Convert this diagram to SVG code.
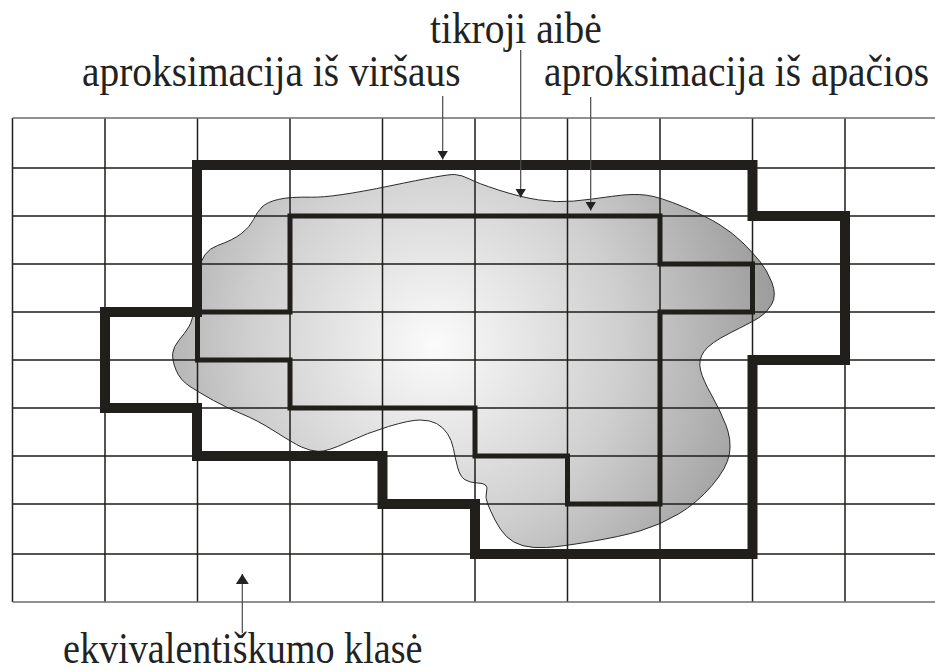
<svg xmlns="http://www.w3.org/2000/svg" width="935" height="671" viewBox="0 0 935 671">
  <style>
    .grid { stroke: #1e1e1a; stroke-width: 1.5; fill: none; }
    .edge { stroke: #6e6e6e; stroke-width: 1.4; fill: none; }
    .upper { stroke: #201f1b; stroke-width: 10; fill: none; stroke-linejoin: miter; stroke-miterlimit: 10; }
    .lower { stroke: #201f1b; stroke-width: 5; fill: none; stroke-linejoin: miter; stroke-miterlimit: 10; }
    .lead { stroke: #4a4a4a; stroke-width: 1.2; fill: none; }
    .label { font-family: "Liberation Serif", "Times New Roman", serif; font-size: 39.4px; fill: #222; }
  </style>
  <defs>
    <radialGradient id="setShade" gradientUnits="userSpaceOnUse" cx="435" cy="345" r="340">
      <stop offset="0" stop-color="#fbfbfb"/>
      <stop offset="0.55" stop-color="#cfcfcf"/>
      <stop offset="1" stop-color="#9d9d9d"/>
    </radialGradient>
    <marker id="head" viewBox="0 0 10 10" refX="10" refY="5" markerUnits="userSpaceOnUse" markerWidth="9" markerHeight="11" orient="auto" preserveAspectRatio="none">
      <path d="M0,0 L10,5 L0,10 z" fill="#222"/>
    </marker>
    <marker id="headBig" viewBox="0 0 10 10" refX="10" refY="5" markerUnits="userSpaceOnUse" markerWidth="10" markerHeight="13" orient="auto" preserveAspectRatio="none">
      <path d="M0,0 L10,5 L0,10 z" fill="#222"/>
    </marker>
  </defs>

  <rect width="935" height="671" fill="#fff"/>

  <!-- the true set: shaded irregular region -->
  <g id="true-set">
    <path fill="url(#setShade)" stroke="#2a2a2a" stroke-width="1"
      d="M278.5,199.4 Q290,196.7 311.5,197.2 Q333,197.7 390,185.9 Q447,174 454.5,174.5 Q462,175 469.5,179 Q477,183 498.5,190 Q520,197 538.5,199.9 Q557,202.7 573.5,201.1 Q590,199.5 611.5,196.4 Q633,193.3 646.5,195.2 Q660,197 683.5,206.9 Q707,216.7 720,224.9 Q733,233 743,243 Q753,253 760,261.5 Q767,270 771.9,282.5 Q776.7,295 771.9,304 Q767,313 758.5,318 Q750,323 730,333 Q710,343 704,351.5 Q698,360 700.5,370 Q703,380 711.5,395 Q720,410 725.9,425 Q731.7,440 729.4,454 Q727,468 712,485.5 Q697,503 678.5,514 Q660,525 640,530.9 Q620,536.7 590,541.7 Q560,546.7 546.5,547.5 Q533,548.3 523,545.7 Q513,543 506.5,536.5 Q500,530 495,520 Q490,510 487.5,503.5 Q485,497 486.5,492 Q488,487 485.5,485 Q483,483 476.5,482.9 Q470,482.7 465,479.7 Q460,476.7 457.5,466.9 Q455,457 453.4,448.5 Q451.7,440 447.4,433.5 Q443,427 436.5,423.5 Q430,420 420,420 Q410,420 388.5,426.5 Q367,433 347,442.4 Q327,451.7 318.5,451.4 Q310,451 301.5,447 Q293,443 275,431.5 Q257,420 242,414 Q227,408 213.5,400.5 Q200,393 190,386.5 Q180,380 176,370 Q172,360 172.7,353.4 Q173.3,346.7 179.2,339.9 Q185,333 189,326.5 Q193,320 194.5,305 Q196,290 199,270.5 Q202,251 217.5,245.5 Q233,240 241.5,233.5 Q250,227 253.5,219.5 Q257,212 262,207 Q267,202 278.5,199.4 Z"/>
  </g>

  <!-- equivalence-class grid -->
  <g id="grid">
    <path class="grid" d="M12.5,168 H935 M12.5,216 H935 M12.5,264 H935 M12.5,312 H935 M12.5,360 H935 M12.5,408 H935 M12.5,456 H935 M12.5,504 H935 M12.5,554 H935"/>
    <path class="grid" d="M12.5,118 V602 M105,118 V602 M197.5,118 V602 M290,118 V602 M382.5,118 V602 M475,118 V602 M567.5,118 V602 M660,118 V602 M752.5,118 V602 M845,118 V602"/>
    <path class="edge" d="M12.5,118 H935 M12.5,602 H935"/>
  </g>

  <!-- lower approximation -->
  <g id="lower-approximation">
    <path class="lower" d="M290,216 H660 V264 H752.5 V312 H660 V504 H567.5 V456 H475 V408 H290 V360 H197.5 V312 H290 Z"/>
  </g>

  <!-- upper approximation -->
  <g id="upper-approximation">
    <path class="upper" d="M197,165 H752.5 V216 H845 V360 H752.5 V554 H475 V504 H382.5 V456 H197 V408 H105 V312 H197 Z"/>
  </g>

  <!-- leader lines -->
  <g id="connectors">
    <line class="lead" x1="442.7" y1="96" x2="442.7" y2="159.5" marker-end="url(#head)"/>
    <line class="lead" x1="520.7" y1="50" x2="520.7" y2="197.5" marker-end="url(#head)"/>
    <line class="lead" x1="590.7" y1="97" x2="590.7" y2="210.5" marker-end="url(#head)"/>
    <line class="lead" x1="242.3" y1="633" x2="242.3" y2="574" marker-end="url(#headBig)"/>
  </g>

  <!-- labels: glyphs are a little taller than they are wide -->
  <g id="labels">
    <g transform="translate(430,43) scale(1,1.115)">
      <text id="label-true-set" class="label" x="0" y="0">tikroji aibė</text>
    </g>
    <g transform="translate(82,86) scale(1,1.115)">
      <text id="label-upper" class="label" x="0" y="0">aproksimacija iš viršaus</text>
    </g>
    <g transform="translate(544,86) scale(1,1.115)">
      <text id="label-lower" class="label" x="0" y="0">aproksimacija iš apačios</text>
    </g>
    <g transform="translate(63,663) scale(1,1.15)">
      <text id="label-class" class="label" x="0" y="0" style="font-size:38.2px">ekvivalentiškumo klasė</text>
    </g>
  </g>
</svg>
